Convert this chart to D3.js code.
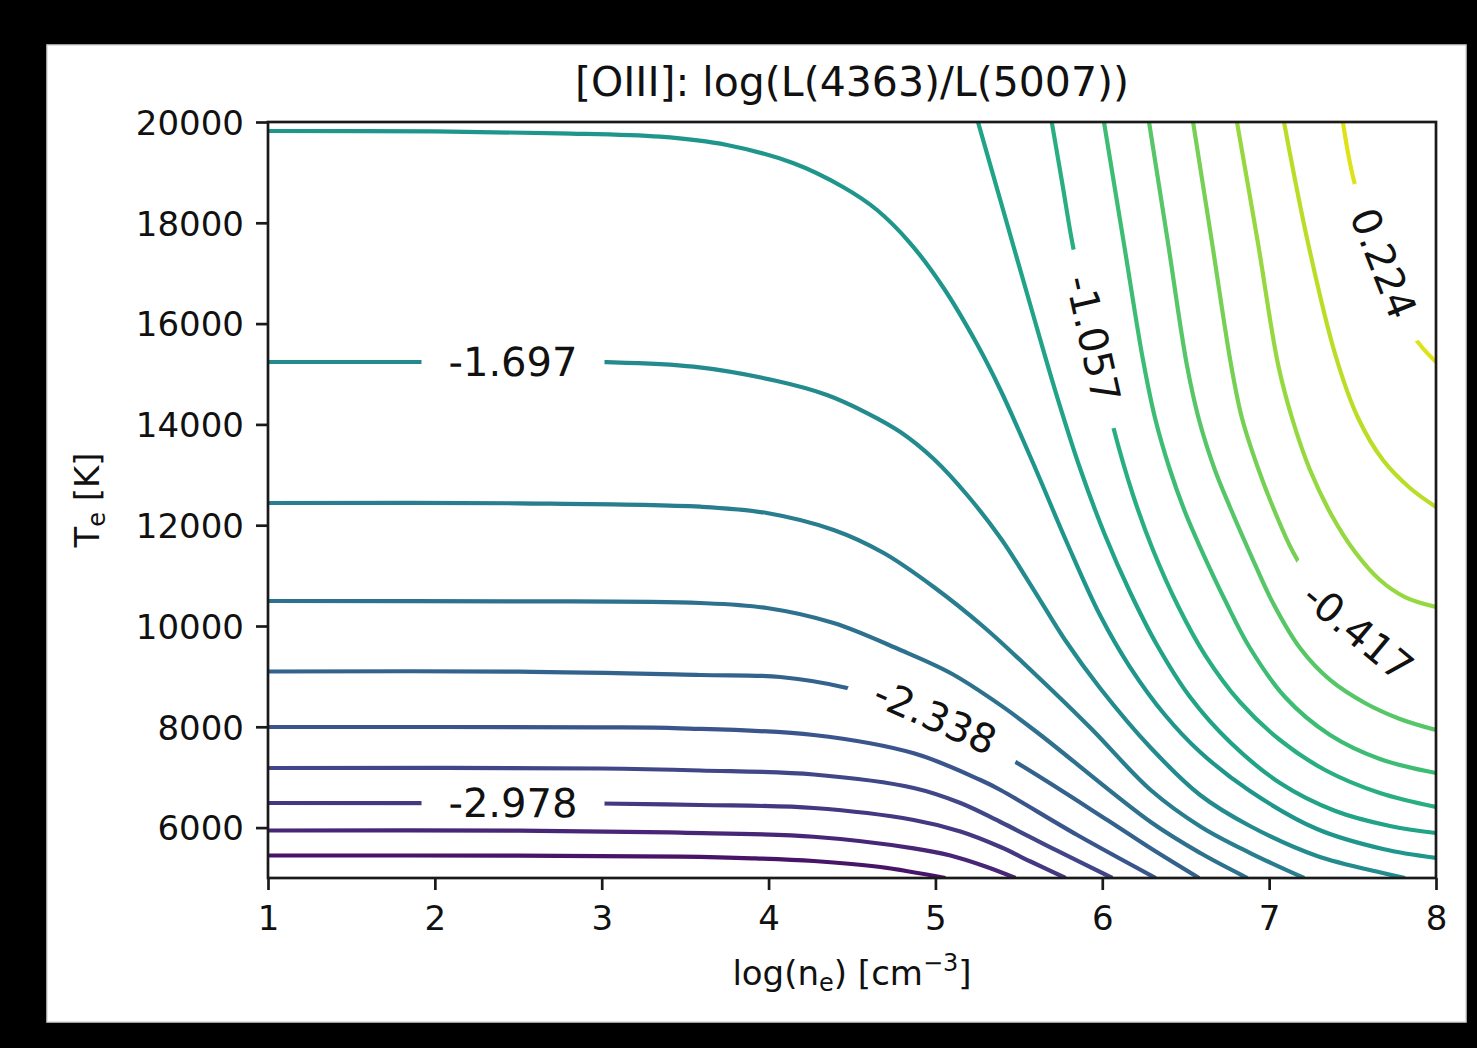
<!DOCTYPE html>
<html><head><meta charset="utf-8">
<script src="https://cdn.jsdelivr.net/npm/d3@7"></script>
<style>
html,body{margin:0;padding:0;background:#000;}
svg{display:block;}
text{font-family:"DejaVu Sans","Liberation Sans",sans-serif;}
</style></head><body>
<svg id="chart" width="1477" height="1048"></svg>
<script>
// ---------------- data ----------------
const titleText = "[OIII]: log(L(4363)/L(5007))";
const xTicks = [1, 2, 3, 4, 5, 6, 7, 8];
const yTicks = [6000, 8000, 10000, 12000, 14000, 16000, 18000, 20000];
const xDomain = [1, 8];
const yDomain = [5000, 20000];

// contour levels of log(L(4363)/L(5007))
const levels = [-3.619, -3.405, -3.191, -2.978, -2.764, -2.551, -2.338, -2.124, -1.911, -1.697,
                -1.484, -1.270, -1.057, -0.844, -0.630, -0.417, -0.203, 0.010, 0.224, 0.437];

// contour traces [log(ne), Te]
const cm3405 = [[1,5446],[2.5,5444],[3.47,5423],[3.9,5391],[4.27,5337],[4.67,5218],[5.06,5000]];
const cm3191 = [[1,5942],[2.5,5940],[3.47,5899],[4.27,5819],[4.87,5589],[5.09,5446],[5.30,5228],[5.48,5000]];
const cm2978 = [[1,6488],[2.99,6478],[3.59,6448],[4.27,6389],[4.87,6151],[5.15,5923],[5.39,5615],[5.57,5327],[5.78,5000]];
const cm2764 = [[1,7183],[2.99,7173],[3.59,7133],[4.27,7054],[4.87,6786],[5.15,6488],[5.39,6111],[5.72,5556],[6.06,5000]];
const cm2551 = [[1,7996],[2.99,7990],[3.47,7970],[4.27,7837],[4.87,7474],[5.27,6944],[5.39,6746],[5.85,5853],[6.32,5000]];
const cm2338 = [[1,9097],[2.5,9095],[3.59,9028],[4.07,8988],[4.47,8770],[5.0,8194],[5.49,7282],[6.03,6151],[6.29,5590],[6.58,5000]];
const cm2124 = [[1,10496],[2.5,10490],[3.59,10456],[3.99,10357],[4.39,10059],[4.79,9524],[5.09,9067],[5.39,8430],[5.63,7838],[6.29,6111],[6.59,5490],[6.87,5000]];
const cm1911 = [[1,12440],[2.5,12435],[3.59,12367],[3.99,12242],[4.39,11905],[4.69,11448],[4.99,10774],[5.29,9980],[5.59,9067],[5.93,7976],[6.29,6746],[6.59,6018],[6.89,5490],[7.21,5000]];
const cm1697 = [[1,15238],[2.47,15238],[3.03,15235],[3.55,15145],[4.05,14861],[4.35,14584],[4.59,14226],[4.79,13849],[4.99,13313],[5.19,12599],[5.39,11746],[5.59,10714],[5.777,9722],[5.986,8770],[6.286,7599],[6.586,6647],[6.885,6032],[7.287,5437],[7.682,5099],[7.814,5000]];
const cm1484 = [[1,19821],[2.0,19815],[2.75,19775],[3.349,19708],[3.751,19543],[4.146,19186],[4.446,18710],[4.65,18254],[4.848,17599],[5.045,16726],[5.249,15595],[5.387,14702],[5.585,13234],[5.789,11647],[5.986,10218],[6.166,9186],[6.376,8234],[6.586,7500],[6.885,6726],[7.287,5972],[7.682,5575],[8.0,5397]];
const cm1270 = [[5.255,20000],[5.387,18472],[5.567,16389],[5.717,14682],[5.866,13135],[6.016,11805],[6.166,10675],[6.328,9623],[6.526,8591],[6.765,7698],[7.065,6885],[7.397,6329],[7.724,6032],[8.0,5893]];
const cm1057 = [[5.697,20000],[5.759,18809],[5.824,17540],[5.944,15694],[6.064,13968],[6.184,12599],[6.304,11508],[6.454,10397],[6.616,9424],[6.825,8492],[7.065,7738],[7.335,7143],[7.664,6686],[8.0,6409]];
const cm0844 = [[6.010,20000],[6.130,17580],[6.244,15278],[6.316,14127],[6.406,13095],[6.496,12262],[6.586,11567],[6.735,10516],[6.885,9563],[7.095,8591],[7.365,7837],[7.664,7361],[8.0,7083]];
const cm0630 = [[6.280,20000],[6.394,17599],[6.508,15159],[6.580,14087],[6.675,13095],[6.765,12361],[6.885,11448],[7.023,10456],[7.185,9563],[7.365,8929],[7.574,8472],[7.784,8155],[8.0,7936]];
const cm0417 = [[6.544,20000],[6.658,17599],[6.771,15198],[6.837,14127],[6.933,13135],[7.035,12262],[7.143,11468],[7.305,10615],[7.533,9881],[7.784,9325],[8.0,8988]];
const cm0203 = [[6.807,20000],[6.933,17599],[7.053,15198],[7.137,14127],[7.245,13095],[7.377,12182],[7.515,11468],[7.664,10913],[7.814,10575],[8.0,10377]];
const cp0010 = [[7.089,20000],[7.233,17599],[7.397,15377],[7.533,14127],[7.682,13293],[7.844,12738],[8.0,12361]];
const cp0224 = [[7.442,20000],[7.515,18750],[7.684,17196],[7.862,15774],[8.0,15238]];

// one trace per level (null: no visible line)
const contourTraces = [null, cm3405, cm3191, cm2978, cm2764, cm2551, cm2338, cm2124, cm1911, cm1697,
                       cm1484, cm1270, cm1057, cm0844, cm0630, cm0417, cm0203, cp0010, cp0224, null];

// inline labels (every third level) and where they sit
const labelLevels = [-2.978, -2.338, -1.697, -1.057, -0.417, 0.224];
const labelAnchors = [[2.468, 6488], [5.0, 8194], [2.468, 15238], [5.944, 15694], [7.533, 9881], [7.684, 17196]];

// ---------------- layout ----------------
const W = 1477, H = 1048;
const plot = {left: 268, right: 1436, top: 122, bottom: 878};
const svg = d3.select("#chart");

svg.append("rect").attr("x", 0).attr("y", 0).attr("width", W).attr("height", H).attr("fill", "#000");
svg.append("rect").attr("x", 47).attr("y", 45).attr("width", 1419).attr("height", 977)
  .attr("fill", "#fff").attr("stroke", "#d6d6d6").attr("stroke-width", 1.5);

const x = d3.scaleLinear().domain(xDomain).range([plot.left, plot.right]);
const y = d3.scaleLinear().domain(yDomain).range([plot.bottom, plot.top]);
const color = d3.scaleSequential(d3.interpolateViridis).domain([levels[0], levels[levels.length - 1]]);

const defs = svg.append("defs");
defs.append("clipPath").attr("id", "plotClip").append("rect")
  .attr("x", plot.left).attr("y", plot.top)
  .attr("width", plot.right - plot.left).attr("height", plot.bottom - plot.top);

const line = d3.line().x(d => x(d[0])).y(d => y(d[1])).curve(d3.curveCatmullRom.alpha(0.5));

const linesG = svg.append("g").attr("clip-path", "url(#plotClip)");
const pathNodes = {};
levels.forEach((lv, i) => {
  const tr = contourTraces[i];
  if (!tr) return;
  const p = linesG.append("path")
    .attr("d", line(tr))
    .attr("fill", "none")
    .attr("stroke", color(lv))
    .attr("stroke-width", 4.2)
    .attr("stroke-linecap", "butt")
    .attr("stroke-linejoin", "round");
  pathNodes[i] = p.node();
});

// inline labels with gaps
const labelG = svg.append("g");
const fmt = d3.format(".3f");
const gapPad = 54;
labelLevels.forEach((lv, k) => {
  const idx = levels.indexOf(lv);
  const node = pathNodes[idx];
  if (!node) return;
  const ax = x(labelAnchors[k][0]), ay = y(labelAnchors[k][1]);
  const L = node.getTotalLength();
  let best = 0, bd = Infinity;
  for (let s = 0; s <= L; s += 0.5) {
    const p = node.getPointAtLength(s);
    const d = (p.x - ax) * (p.x - ax) + (p.y - ay) * (p.y - ay);
    if (d < bd) { bd = d; best = s; }
  }
  const txt = labelG.append("text")
    .text(fmt(lv).replace("\u2212", "-"))
    .attr("font-size", 40)
    .attr("fill", "#111")
    .attr("text-anchor", "middle")
    .attr("dominant-baseline", "central");
  const w = txt.node().getComputedTextLength();
  const half = (w + gapPad) / 2;
  const p1 = node.getPointAtLength(Math.max(0, best - half));
  const p2 = node.getPointAtLength(Math.min(L, best + half));
  let ang = Math.atan2(p2.y - p1.y, p2.x - p1.x) * 180 / Math.PI;
  if (ang > 90) ang -= 180;
  if (ang < -90) ang += 180;
  const c = node.getPointAtLength(best);
  txt.attr("transform", `translate(${c.x},${c.y}) rotate(${ang})`);
  const m = defs.append("mask").attr("id", "gap" + idx).attr("maskUnits", "userSpaceOnUse")
    .attr("x", 0).attr("y", 0).attr("width", W).attr("height", H);
  m.append("rect").attr("x", 0).attr("y", 0).attr("width", W).attr("height", H).attr("fill", "#fff");
  m.append("rect").attr("x", -(w + gapPad) / 2).attr("y", -24)
    .attr("width", w + gapPad).attr("height", 48).attr("fill", "#000")
    .attr("transform", `translate(${c.x},${c.y}) rotate(${ang})`);
  d3.select(node).attr("mask", `url(#gap${idx})`);
});

// axes
const axisColor = "#1a1a1a";
const xAxis = svg.append("g").attr("transform", `translate(0,${plot.bottom})`)
  .call(d3.axisBottom(x).tickValues(xTicks).tickFormat(d3.format("d")).tickSize(12).tickPadding(16));
const yAxis = svg.append("g").attr("transform", `translate(${plot.left},0)`)
  .call(d3.axisLeft(y).tickValues(yTicks).tickFormat(d3.format("d")).tickSize(12).tickPadding(12));
[xAxis, yAxis].forEach(g => {
  g.select(".domain").remove();
  g.selectAll(".tick line").attr("stroke", axisColor).attr("stroke-width", 2.7);
  g.selectAll(".tick text").attr("font-size", 34).attr("fill", "#111")
    .attr("font-family", "DejaVu Sans");
});
yAxis.selectAll(".tick text").attr("dy", "0.36em");

svg.append("rect").attr("x", plot.left).attr("y", plot.top)
  .attr("width", plot.right - plot.left).attr("height", plot.bottom - plot.top)
  .attr("fill", "none").attr("stroke", axisColor).attr("stroke-width", 2.7);

// title
svg.append("text").attr("x", (plot.left + plot.right) / 2).attr("y", 96)
  .attr("text-anchor", "middle").attr("font-size", 41).attr("fill", "#111").text(titleText);

// x label
const xl = svg.append("text").attr("x", (plot.left + plot.right) / 2).attr("y", 985)
  .attr("text-anchor", "middle").attr("font-size", 34).attr("fill", "#111");
xl.append("tspan").text("log(n");
xl.append("tspan").attr("font-size", 24).attr("dy", 6).text("e");
xl.append("tspan").attr("dy", -6).text(") [cm");
xl.append("tspan").attr("font-size", 24).attr("dy", -14).text("\u22123");
xl.append("tspan").attr("dy", 14).text("]");

// y label
const yl = svg.append("text").attr("transform", `translate(99,${(plot.top + plot.bottom) / 2}) rotate(-90)`)
  .attr("text-anchor", "middle").attr("font-size", 34).attr("fill", "#111");
yl.append("tspan").text("T");
yl.append("tspan").attr("font-size", 24).attr("dy", 6).text("e");
yl.append("tspan").attr("dy", -6).text(" [K]");
</script>
</body></html>
